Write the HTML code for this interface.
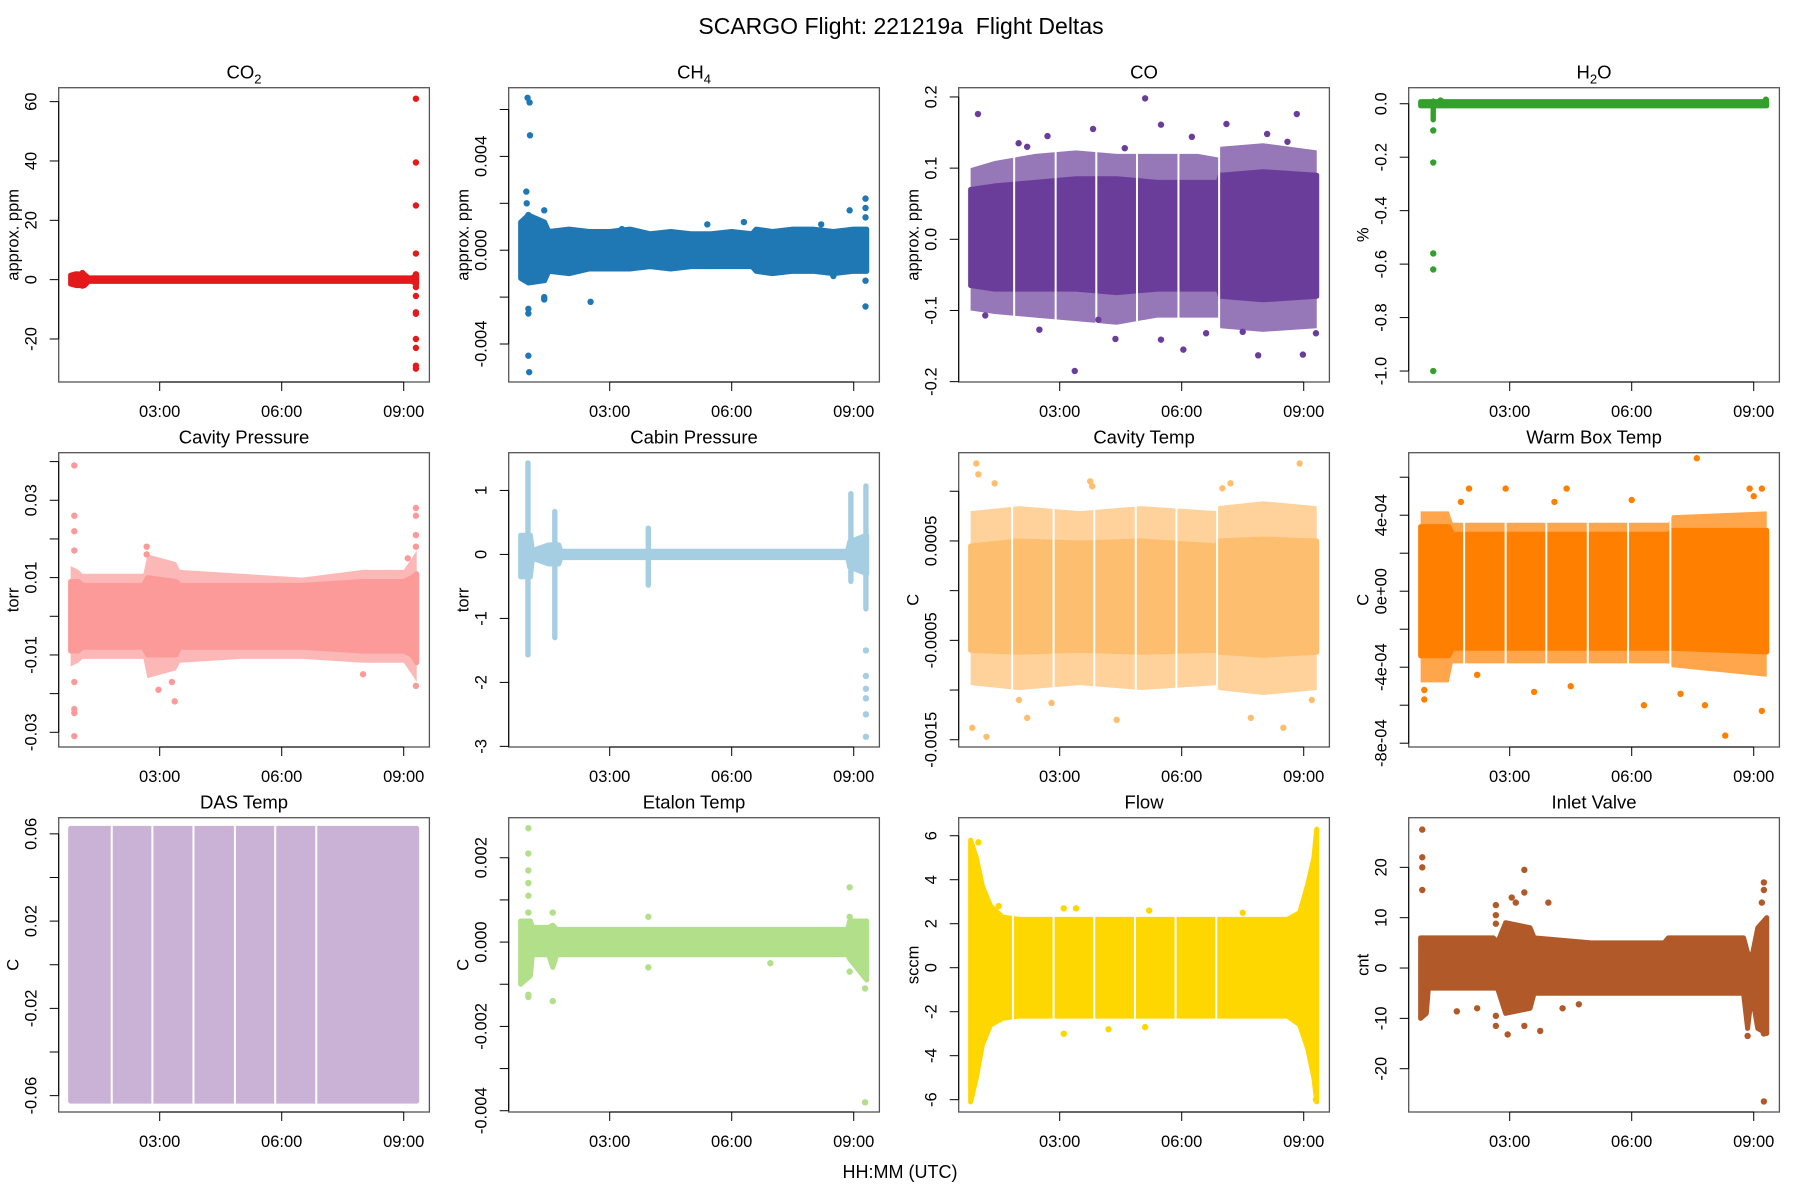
<!DOCTYPE html>
<html><head><meta charset="utf-8"><title>SCARGO Flight Deltas</title>
<style>
html,body{margin:0;padding:0;background:#fff;}
svg{display:block;font-family:"Liberation Sans",Arial,sans-serif;}
</style></head>
<body>
<svg id="chart" xmlns="http://www.w3.org/2000/svg" width="1800" height="1200" viewBox="0 0 1800 1200">
<rect x="0" y="0" width="1800" height="1200" fill="#fff"/>
<text x="901" y="34" font-size="23" text-anchor="middle" fill="#000">SCARGO Flight: 221219a&#160; Flight Deltas</text>
<text x="900" y="1178" font-size="18" text-anchor="middle" fill="#000">HH:MM (UTC)</text>
</svg>
<script>
// ---------- shared tick data ----------
const xTickHours = [3, 6, 9];
const xTickLabels = ["03:00", "06:00", "09:00"];

// ---------- CO2 ----------
const co2BandT = [0.81, 0.95, 1.15, 1.25, 9.2, 9.32];
const co2BandHi = [1.5, 2, 1.8, 0.6, 0.6, 1.5];
const co2BandLo = [-1.5, -2, -2, -0.6, -0.6, -1.5];
const co2OutT = [9.3, 9.3, 9.3, 9.3, 9.3, 9.3, 9.3, 9.3, 9.3, 9.3, 9.3, 9.3, 9.3, 1.1, 1.1];
const co2OutV = [61, 39.5, 25, 8.8, 1.8, -2.5, -5.5, -11, -11.5, -20, -23, -29, -30, 2.2, -2];
const co2Ticks = [-20, 0, 20, 40, 60];
const co2TickLabels = ["-20", "0", "20", "40", "60"];

// ---------- CH4 ----------
const ch4BandT = [0.81, 1.0, 1.4, 1.5, 2.0, 2.5, 3.0, 3.5, 4.0, 4.5, 5.0, 5.5, 6.0, 6.5, 6.6, 7.0, 7.5, 8.0, 8.5, 9.0, 9.32];
const ch4BandHi = [0.0012, 0.0015, 0.0012, 0.0008, 0.0009, 0.0008, 0.0008, 0.0009, 0.0007, 0.0008, 0.0007, 0.0007, 0.0008, 0.0007, 0.0009, 0.0008, 0.0009, 0.0009, 0.0008, 0.0009, 0.0009];
const ch4BandLo = [-0.0012, -0.0014, -0.0013, -0.0009, -0.001, -0.0008, -0.0008, -0.0008, -0.0007, -0.0008, -0.0007, -0.0007, -0.0007, -0.0007, -0.0009, -0.001, -0.0009, -0.0009, -0.001, -0.0009, -0.0009];
const ch4OutT = [0.98, 1.03, 1.04, 0.95, 0.96, 1.0, 1.39, 1.0, 1.0, 1.39, 1.39, 2.53, 1.0, 1.02, 9.29, 9.29, 9.29, 8.9, 9.29, 9.29, 5.4, 6.3, 8.2, 3.3, 8.5];
const ch4OutV = [0.0065, 0.0063, 0.0049, 0.0025, 0.002, 0.0015, 0.0017, -0.0025, -0.0027, -0.002, -0.0021, -0.0022, -0.0045, -0.0052, 0.0022, 0.0018, 0.0014, 0.0017, -0.0013, -0.0024, 0.0011, 0.0012, 0.0011, 0.0009, -0.0011];
const ch4Ticks = [-0.004, -0.002, 0, 0.002, 0.004, 0.006];
const ch4TickLabels = ["-0.004", "", "0.000", "", "0.004", ""];

// ---------- CO ----------
const coBandT = [0.81, 1.4, 2.4, 3.4, 4.4, 5.4, 6.4, 6.9, 6.95, 8.0, 9.32];
const coBandHi = [0.07, 0.075, 0.08, 0.085, 0.085, 0.08, 0.08, 0.08, 0.09, 0.095, 0.09];
const coBandLo = [-0.065, -0.07, -0.07, -0.07, -0.075, -0.07, -0.07, -0.07, -0.08, -0.085, -0.08];
const coSparseHi = [0.1, 0.11, 0.12, 0.125, 0.12, 0.12, 0.12, 0.115, 0.13, 0.135, 0.125];
const coSparseLo = [-0.1, -0.105, -0.11, -0.115, -0.12, -0.11, -0.11, -0.11, -0.125, -0.13, -0.125];
const coGaps = [1.88, 2.9, 3.9, 4.9, 5.92, 6.92];
const coOutT = [0.99, 5.1, 8.83, 3.37, 6.04, 7.88, 8.98, 5.49, 7.1, 3.82, 2.7, 1.99, 6.25, 8.1, 8.6, 5.49, 4.37, 6.6, 9.3, 1.17, 2.5, 3.95, 2.2, 4.6, 7.5];
const coOutV = [0.176, 0.198, 0.176, -0.185, -0.155, -0.163, -0.162, 0.161, 0.162, 0.155, 0.145, 0.135, 0.144, 0.148, 0.137, -0.141, -0.14, -0.132, -0.132, -0.107, -0.127, -0.113, 0.13, 0.128, -0.13];
const coTicks = [-0.2, -0.1, 0, 0.1, 0.2];
const coTickLabels = ["-0.2", "-0.1", "0.0", "0.1", "0.2"];

// ---------- H2O ----------
const h2oBandT = [0.81, 9.32];
const h2oBandHi = [0.008, 0.008];
const h2oBandLo = [-0.008, -0.008];
const h2oSpikeT = [1.12];
const h2oSpikeLo = [-0.06];
const h2oSpikeHi = [0.01];
const h2oOutT = [1.12, 1.12, 1.12, 1.12, 1.12, 1.3, 9.3];
const h2oOutV = [-0.1, -0.22, -0.56, -0.62, -1.0, 0.012, 0.015];
const h2oTicks = [-1, -0.8, -0.6, -0.4, -0.2, 0];
const h2oTickLabels = ["-1.0", "-0.8", "-0.6", "-0.4", "-0.2", "0.0"];

// ---------- Cavity Pressure ----------
const cavpBandT = [0.81, 1.0, 1.1, 2.6, 2.7, 3.4, 3.5, 5.0, 6.5, 8.0, 9.0, 9.2, 9.32];
const cavpBandHi = [0.009, 0.009, 0.008, 0.008, 0.01, 0.009, 0.008, 0.008, 0.008, 0.009, 0.009, 0.01, 0.011];
const cavpBandLo = [-0.009, -0.009, -0.008, -0.008, -0.01, -0.01, -0.008, -0.008, -0.008, -0.009, -0.009, -0.01, -0.012];
const cavpSparseHi = [0.013, 0.012, 0.011, 0.011, 0.016, 0.014, 0.012, 0.011, 0.01, 0.012, 0.012, 0.015, 0.017];
const cavpSparseLo = [-0.013, -0.012, -0.011, -0.011, -0.016, -0.014, -0.012, -0.011, -0.011, -0.012, -0.012, -0.015, -0.017];
const cavpOutT = [0.9, 0.9, 0.9, 0.9, 0.9, 0.9, 0.9, 0.9, 9.3, 9.3, 9.3, 9.3, 9.3, 2.68, 2.68, 3.37, 2.97, 3.3, 9.1, 8.0];
const cavpOutV = [0.039, 0.026, 0.022, 0.017, -0.017, -0.024, -0.025, -0.031, 0.028, 0.026, 0.021, 0.018, -0.018, 0.018, 0.016, -0.022, -0.019, -0.017, 0.015, -0.015];
const cavpTicks = [-0.03, -0.02, -0.01, 0, 0.01, 0.02, 0.03, 0.04];
const cavpTickLabels = ["-0.03", "", "-0.01", "", "0.01", "", "0.03", ""];

// ---------- Cabin Pressure ----------
const cabBandT = [0.81, 1.05, 1.1, 1.5, 1.75, 1.8, 8.85, 8.9, 9.32];
const cabBandHi = [0.3, 0.3, 0.06, 0.15, 0.15, 0.05, 0.05, 0.2, 0.3];
const cabBandLo = [-0.35, -0.35, -0.06, -0.15, -0.15, -0.05, -0.05, -0.2, -0.3];
const cabSpikeT = [0.99, 1.65, 3.95, 8.93, 9.3];
const cabSpikeLo = [-1.57, -1.3, -0.48, -0.42, -0.85];
const cabSpikeHi = [1.43, 0.67, 0.41, 0.95, 1.07];
const cabOutT = [9.3, 9.3, 9.3, 9.3, 9.3, 9.3];
const cabOutV = [-1.5, -1.9, -2.1, -2.25, -2.5, -2.85];
const cabTicks = [-3, -2, -1, 0, 1];
const cabTickLabels = ["-3", "-2", "-1", "0", "1"];

// ---------- Cavity Temp ----------
const cavtBandT = [0.81, 2.0, 3.5, 5.0, 6.87, 6.9, 8.0, 9.32];
const cavtBandHi = [0.00045, 0.0005, 0.00048, 0.0005, 0.00045, 0.0005, 0.00052, 0.0005];
const cavtBandLo = [-0.0006, -0.00062, -0.0006, -0.00062, -0.0006, -0.00062, -0.00065, -0.00062];
const cavtSparseHi = [0.0008, 0.00085, 0.0008, 0.00085, 0.0008, 0.00085, 0.0009, 0.00085];
const cavtSparseLo = [-0.00095, -0.001, -0.00095, -0.001, -0.00095, -0.001, -0.00105, -0.001];
const cavtGaps = [1.83, 2.85, 3.85, 4.87, 5.87, 6.87];
const cavtOutT = [0.95, 1.0, 1.4, 3.8, 3.75, 8.9, 7.2, 7.0, 4.4, 0.85, 1.2, 2.2, 7.7, 8.5, 2.8, 2.0, 9.2];
const cavtOutV = [0.00128, 0.00117, 0.00108, 0.00105, 0.0011, 0.00128, 0.00108, 0.00103, -0.0013, -0.00138, -0.00147, -0.00128, -0.00128, -0.00138, -0.00113, -0.0011, -0.0011];
const cavtTicks = [-0.0015, -0.001, -0.0005, 0, 0.0005, 0.001];
const cavtTickLabels = ["-0.0015", "", "-0.0005", "", "0.0005", ""];

// ---------- Warm Box Temp ----------
const wbBandT = [0.81, 1.5, 1.6, 6.9, 7.0, 9.32];
const wbBandHi = [3.4e-4, 3.4e-4, 3e-4, 3e-4, 3.2e-4, 3.2e-4];
const wbBandLo = [-3.4e-4, -3.4e-4, -3e-4, -3e-4, -3e-4, -3.2e-4];
const wbSparseHi = [4.2e-4, 4.2e-4, 3.6e-4, 3.6e-4, 4e-4, 4.2e-4];
const wbSparseLo = [-4.8e-4, -4.8e-4, -3.8e-4, -3.8e-4, -4e-4, -4.5e-4];
const wbGaps = [1.88, 2.9, 3.9, 4.92, 5.91, 6.95];
const wbOutT = [7.6, 9.2, 8.9, 2.9, 2.0, 4.4, 6.0, 1.8, 4.1, 9.0, 0.9, 0.9, 2.2, 7.8, 6.3, 9.2, 7.2, 4.5, 8.3, 3.6];
const wbOutV = [7e-4, 5.4e-4, 5.4e-4, 5.4e-4, 5.4e-4, 5.4e-4, 4.8e-4, 4.7e-4, 4.7e-4, 5e-4, -5.7e-4, -5.2e-4, -4.4e-4, -6e-4, -6e-4, -6.3e-4, -5.4e-4, -5e-4, -7.6e-4, -5.3e-4];
const wbTicks = [-8e-4, -6e-4, -4e-4, -2e-4, 0, 2e-4, 4e-4, 6e-4];
const wbTickLabels = ["-8e-04", "", "-4e-04", "", "0e+00", "", "4e-04", ""];

// ---------- DAS Temp ----------
const dasBandT = [0.81, 9.32];
const dasBandHi = [0.0625, 0.0625];
const dasBandLo = [-0.0625, -0.0625];
const dasGaps = [1.82, 2.82, 3.83, 4.85, 5.84, 6.85];
const dasTicks = [-0.06, -0.04, -0.02, 0, 0.02, 0.04, 0.06];
const dasTickLabels = ["-0.06", "", "-0.02", "", "0.02", "", "0.06"];

// ---------- Etalon Temp ----------
const etBandT = [0.81, 1.05, 1.1, 1.5, 1.6, 1.7, 8.85, 8.9, 9.32];
const etBandHi = [0.0005, 0.0005, 0.00035, 0.00035, 0.0004, 0.0003, 0.0003, 0.0005, 0.0005];
const etBandLo = [-0.001, -0.0008, -0.0003, -0.0003, -0.0006, -0.0003, -0.0003, -0.0004, -0.0009];
const etOutT = [1.0, 1.0, 1.0, 1.0, 1.0, 1.0, 1.0, 1.0, 1.6, 1.6, 3.95, 3.95, 8.9, 8.9, 8.9, 9.28, 9.28, 6.95];
const etOutV = [0.0027, 0.0021, 0.0017, 0.0014, 0.0011, 0.0007, -0.0013, -0.00125, 0.0007, -0.0014, 0.0006, -0.0006, 0.0013, 0.0006, -0.0007, -0.0011, -0.0038, -0.0005];
const etTicks = [-0.004, -0.003, -0.002, -0.001, 0, 0.001, 0.002];
const etTickLabels = ["-0.004", "", "-0.002", "", "0.000", "", "0.002"];

// ---------- Flow ----------
const flowBandT = [0.81, 0.95, 1.1, 1.3, 1.6, 2.0, 8.6, 8.9, 9.1, 9.25, 9.32];
const flowBandHi = [5.8, 5, 3.7, 2.8, 2.3, 2.2, 2.2, 2.5, 3.8, 5, 6.3];
const flowBandLo = [-6.1, -5, -3.5, -2.6, -2.3, -2.2, -2.2, -2.6, -3.7, -5, -6.1];
const flowGaps = [1.85, 2.85, 3.85, 4.85, 5.85, 6.85];
const flowOutT = [1.5, 3.1, 3.4, 5.2, 7.5, 3.1, 4.2, 5.1, 9.0, 1.0, 9.3];
const flowOutV = [2.8, 2.7, 2.7, 2.6, 2.5, -3.0, -2.8, -2.7, 2.8, 5.7, -6.0];
const flowTicks = [-6, -4, -2, 0, 2, 4, 6];
const flowTickLabels = ["-6", "-4", "-2", "0", "2", "4", "6"];

// ---------- Inlet Valve ----------
const inBandT = [0.81, 0.95, 1.0, 2.6, 2.7, 2.9, 3.5, 3.6, 5.0, 6.8, 6.9, 8.75, 8.85, 8.95, 9.1, 9.32];
const inBandHi = [6, 6, 6, 6, 5, 9, 8, 6, 5, 5, 6, 6, 3, 2, 8, 10];
const inBandLo = [-10, -9, -4, -4, -4, -9, -8, -5, -5, -5, -5, -5, -12, -5, -12, -13];
const inOutT = [0.85, 0.85, 0.85, 0.85, 3.36, 3.36, 3.05, 3.15, 2.66, 2.66, 2.66, 3.95, 2.66, 2.66, 2.95, 3.36, 3.75, 9.25, 9.25, 9.2, 9.25, 9.25, 8.85, 1.7, 2.2, 4.3, 4.7];
const inOutV = [27.5, 22, 20, 15.5, 19.5, 15, 14, 13, 12.5, 10.5, 8.8, 13, -9.5, -11.5, -13.2, -11.5, -12.5, 17, 15.5, 13, -26.5, -13, -13.5, -8.6, -8, -8, -7.2];
const inTicks = [-20, -10, 0, 10, 20];
const inTickLabels = ["-20", "-10", "0", "10", "20"];

// ---------- rendering ----------
const NS = "http://www.w3.org/2000/svg";
const svg = document.getElementById("chart");
const PANEL_W = 370.7, PANEL_H = 294.3;

function mk(tag, attrs, parent) {
  const e = document.createElementNS(NS, tag);
  for (const k in attrs) e.setAttribute(k, attrs[k]);
  parent.appendChild(e);
  return e;
}

const panels = [
  {key: "co2", title: ["CO", "2"], ylab: "approx. ppm", color: "#E31A1C", ylim: [-34.5, 64.7], bT: co2BandT, bHi: co2BandHi, bLo: co2BandLo, oT: co2OutT, oV: co2OutV, ticks: co2Ticks, tl: co2TickLabels},
  {key: "ch4", title: ["CH", "4"], ylab: "approx. ppm", color: "#1F78B4", ylim: [-0.00562, 0.00693], bT: ch4BandT, bHi: ch4BandHi, bLo: ch4BandLo, oT: ch4OutT, oV: ch4OutV, ticks: ch4Ticks, tl: ch4TickLabels},
  {key: "co", title: ["CO"], ylab: "approx. ppm", color: "#6A3D9A", ylim: [-0.2005, 0.213], bT: coBandT, bHi: coBandHi, bLo: coBandLo, sHi: coSparseHi, sLo: coSparseLo, gaps: coGaps, oT: coOutT, oV: coOutV, ticks: coTicks, tl: coTickLabels},
  {key: "h2o", title: ["H", "2", "O"], ylab: "%", color: "#33A02C", ylim: [-1.041, 0.06], bT: h2oBandT, bHi: h2oBandHi, bLo: h2oBandLo, spT: h2oSpikeT, spLo: h2oSpikeLo, spHi: h2oSpikeHi, oT: h2oOutT, oV: h2oOutV, ticks: h2oTicks, tl: h2oTickLabels},
  {key: "cavity-pressure", title: ["Cavity Pressure"], ylab: "torr", color: "#FB9A99", ylim: [-0.0338, 0.0423], bT: cavpBandT, bHi: cavpBandHi, bLo: cavpBandLo, sHi: cavpSparseHi, sLo: cavpSparseLo, oT: cavpOutT, oV: cavpOutV, ticks: cavpTicks, tl: cavpTickLabels},
  {key: "cabin-pressure", title: ["Cabin Pressure"], ylab: "torr", color: "#A6CEE3", ylim: [-3.01, 1.59], bT: cabBandT, bHi: cabBandHi, bLo: cabBandLo, spT: cabSpikeT, spLo: cabSpikeLo, spHi: cabSpikeHi, oT: cabOutT, oV: cabOutV, ticks: cabTicks, tl: cabTickLabels},
  {key: "cavity-temp", title: ["Cavity Temp"], ylab: "C", color: "#FDBF6F", ylim: [-0.001573, 0.001388], bT: cavtBandT, bHi: cavtBandHi, bLo: cavtBandLo, sHi: cavtSparseHi, sLo: cavtSparseLo, gaps: cavtGaps, oT: cavtOutT, oV: cavtOutV, ticks: cavtTicks, tl: cavtTickLabels},
  {key: "warm-box-temp", title: ["Warm Box Temp"], ylab: "C", color: "#FF7F00", ylim: [-8.2e-4, 7.29e-4], bT: wbBandT, bHi: wbBandHi, bLo: wbBandLo, sHi: wbSparseHi, sLo: wbSparseLo, gaps: wbGaps, oT: wbOutT, oV: wbOutV, ticks: wbTicks, tl: wbTickLabels},
  {key: "das-temp", title: ["DAS Temp"], ylab: "C", color: "#CAB2D6", ylim: [-0.0675, 0.0674], bT: dasBandT, bHi: dasBandHi, bLo: dasBandLo, gaps: dasGaps, oT: [], oV: [], ticks: dasTicks, tl: dasTickLabels},
  {key: "etalon-temp", title: ["Etalon Temp"], ylab: "C", color: "#B2DF8A", ylim: [-0.00403, 0.00295], bT: etBandT, bHi: etBandHi, bLo: etBandLo, oT: etOutT, oV: etOutV, ticks: etTicks, tl: etTickLabels},
  {key: "flow", title: ["Flow"], ylab: "sccm", color: "#FFD700", ylim: [-6.56, 6.82], bT: flowBandT, bHi: flowBandHi, bLo: flowBandLo, gaps: flowGaps, oT: flowOutT, oV: flowOutV, ticks: flowTicks, tl: flowTickLabels},
  {key: "inlet-valve", title: ["Inlet Valve"], ylab: "cnt", color: "#B15928", ylim: [-28.6, 29.86], bT: inBandT, bHi: inBandHi, bLo: inBandLo, oT: inOutT, oV: inOutV, ticks: inTicks, tl: inTickLabels}
];

panels.forEach((p, idx) => {
  const col = idx % 4, row = Math.floor(idx / 4);
  const L = 58.7 + 450 * col, T = 87.7 + 365 * row, B = T + PANEL_H, R = L + PANEL_W;
  const xs = t => L + 101 + (t - 3) * 40.67;
  const ys = v => B - (v - p.ylim[0]) / (p.ylim[1] - p.ylim[0]) * PANEL_H;

  const g = mk("g", {}, svg);
  
  

  if (p.sHi) {
    let pts = p.bT.map((t, i) => xs(t) + "," + ys(p.sHi[i]));
    pts = pts.concat(p.bT.map((t, i) => xs(t) + "," + ys(p.sLo[i])).reverse());
    const sp = mk("polygon", {points: pts.join(" "), fill: p.color, "fill-opacity": "0.7"}, g);
    
    
  }
  let pts = p.bT.map((t, i) => xs(t) + "," + ys(p.bHi[i]));
  pts = pts.concat(p.bT.map((t, i) => xs(t) + "," + ys(p.bLo[i])).reverse());
  const band = mk("polygon", {points: pts.join(" "), fill: p.color, stroke: p.color, "stroke-width": "5", "stroke-linejoin": "round"}, g);
  
  

  if (p.spT) {
    p.spT.forEach((t, i) => {
      const y1 = ys(p.spHi[i]), y2 = ys(p.spLo[i]);
      const r = mk("rect", {x: xs(t) - 2.7, y: y1 - 2.7, width: 5.4, height: y2 - y1 + 5.4, rx: 2.7, fill: p.color}, g);
      
      
    });
  }
  if (p.gaps) {
    p.gaps.forEach(t => {
      const r = mk("rect", {x: xs(t) - 1, y: T + 1, width: 2, height: PANEL_H - 2, fill: "#fff"}, g);
      
      
    });
  }
  p.oT.forEach((t, i) => {
    const c = mk("circle", {cx: xs(t), cy: ys(p.oV[i]), r: 3.2, fill: p.color}, g);
    
    
  });

  const box = mk("rect", {x: L, y: T, width: PANEL_W, height: PANEL_H, fill: "none", stroke: "#555", "stroke-width": "1.3"}, g);
  
  

  const xa = mk("g", {}, g);
  
  
  mk("line", {x1: xs(xTickHours[0]), x2: xs(xTickHours[xTickHours.length - 1]), y1: B, y2: B, stroke: "#000", "stroke-width": "1"}, xa);
  xTickHours.forEach((h, i) => {
    mk("line", {x1: xs(h), x2: xs(h), y1: B, y2: B + 9, stroke: "#000", "stroke-width": "1"}, xa);
    const tx = mk("text", {x: xs(h), y: B + 35, "font-size": "16.5", "text-anchor": "middle", fill: "#000"}, xa);
    tx.textContent = xTickLabels[i];
    
    
  });

  const ya = mk("g", {}, g);
  
  
  mk("line", {x1: L, x2: L, y1: ys(p.ticks[0]), y2: ys(p.ticks[p.ticks.length - 1]), stroke: "#000", "stroke-width": "1"}, ya);
  p.ticks.forEach((v, i) => {
    const y = ys(v);
    mk("line", {x1: L - 9, x2: L, y1: y, y2: y, stroke: "#000", "stroke-width": "1"}, ya);
    if (p.tl[i]) {
      const tx = mk("text", {x: 0, y: 0, "font-size": "16.5", "text-anchor": "middle", fill: "#000", transform: "translate(" + (L - 22) + "," + y + ") rotate(-90)"}, ya);
      tx.textContent = p.tl[i];
      
      
    }
  });
  const yl = mk("text", {x: 0, y: 0, "font-size": "16.5", "text-anchor": "middle", fill: "#000", transform: "translate(" + (L - 40) + "," + (T + PANEL_H / 2) + ") rotate(-90)"}, g);
  yl.textContent = p.ylab;
  
  

  const tt = mk("text", {x: L + PANEL_W / 2, y: T - 9, "font-size": "18.5", "text-anchor": "middle", fill: "#000"}, g);
  
  
  p.title.forEach((s, i) => {
    const ts = mk("tspan", {}, tt);
    if (i === 1) { ts.setAttribute("font-size", "13"); ts.setAttribute("dy", "5"); }
    if (i === 2) { ts.setAttribute("dy", "-5"); }
    ts.textContent = s;
  });
});
</script>
</body></html>
